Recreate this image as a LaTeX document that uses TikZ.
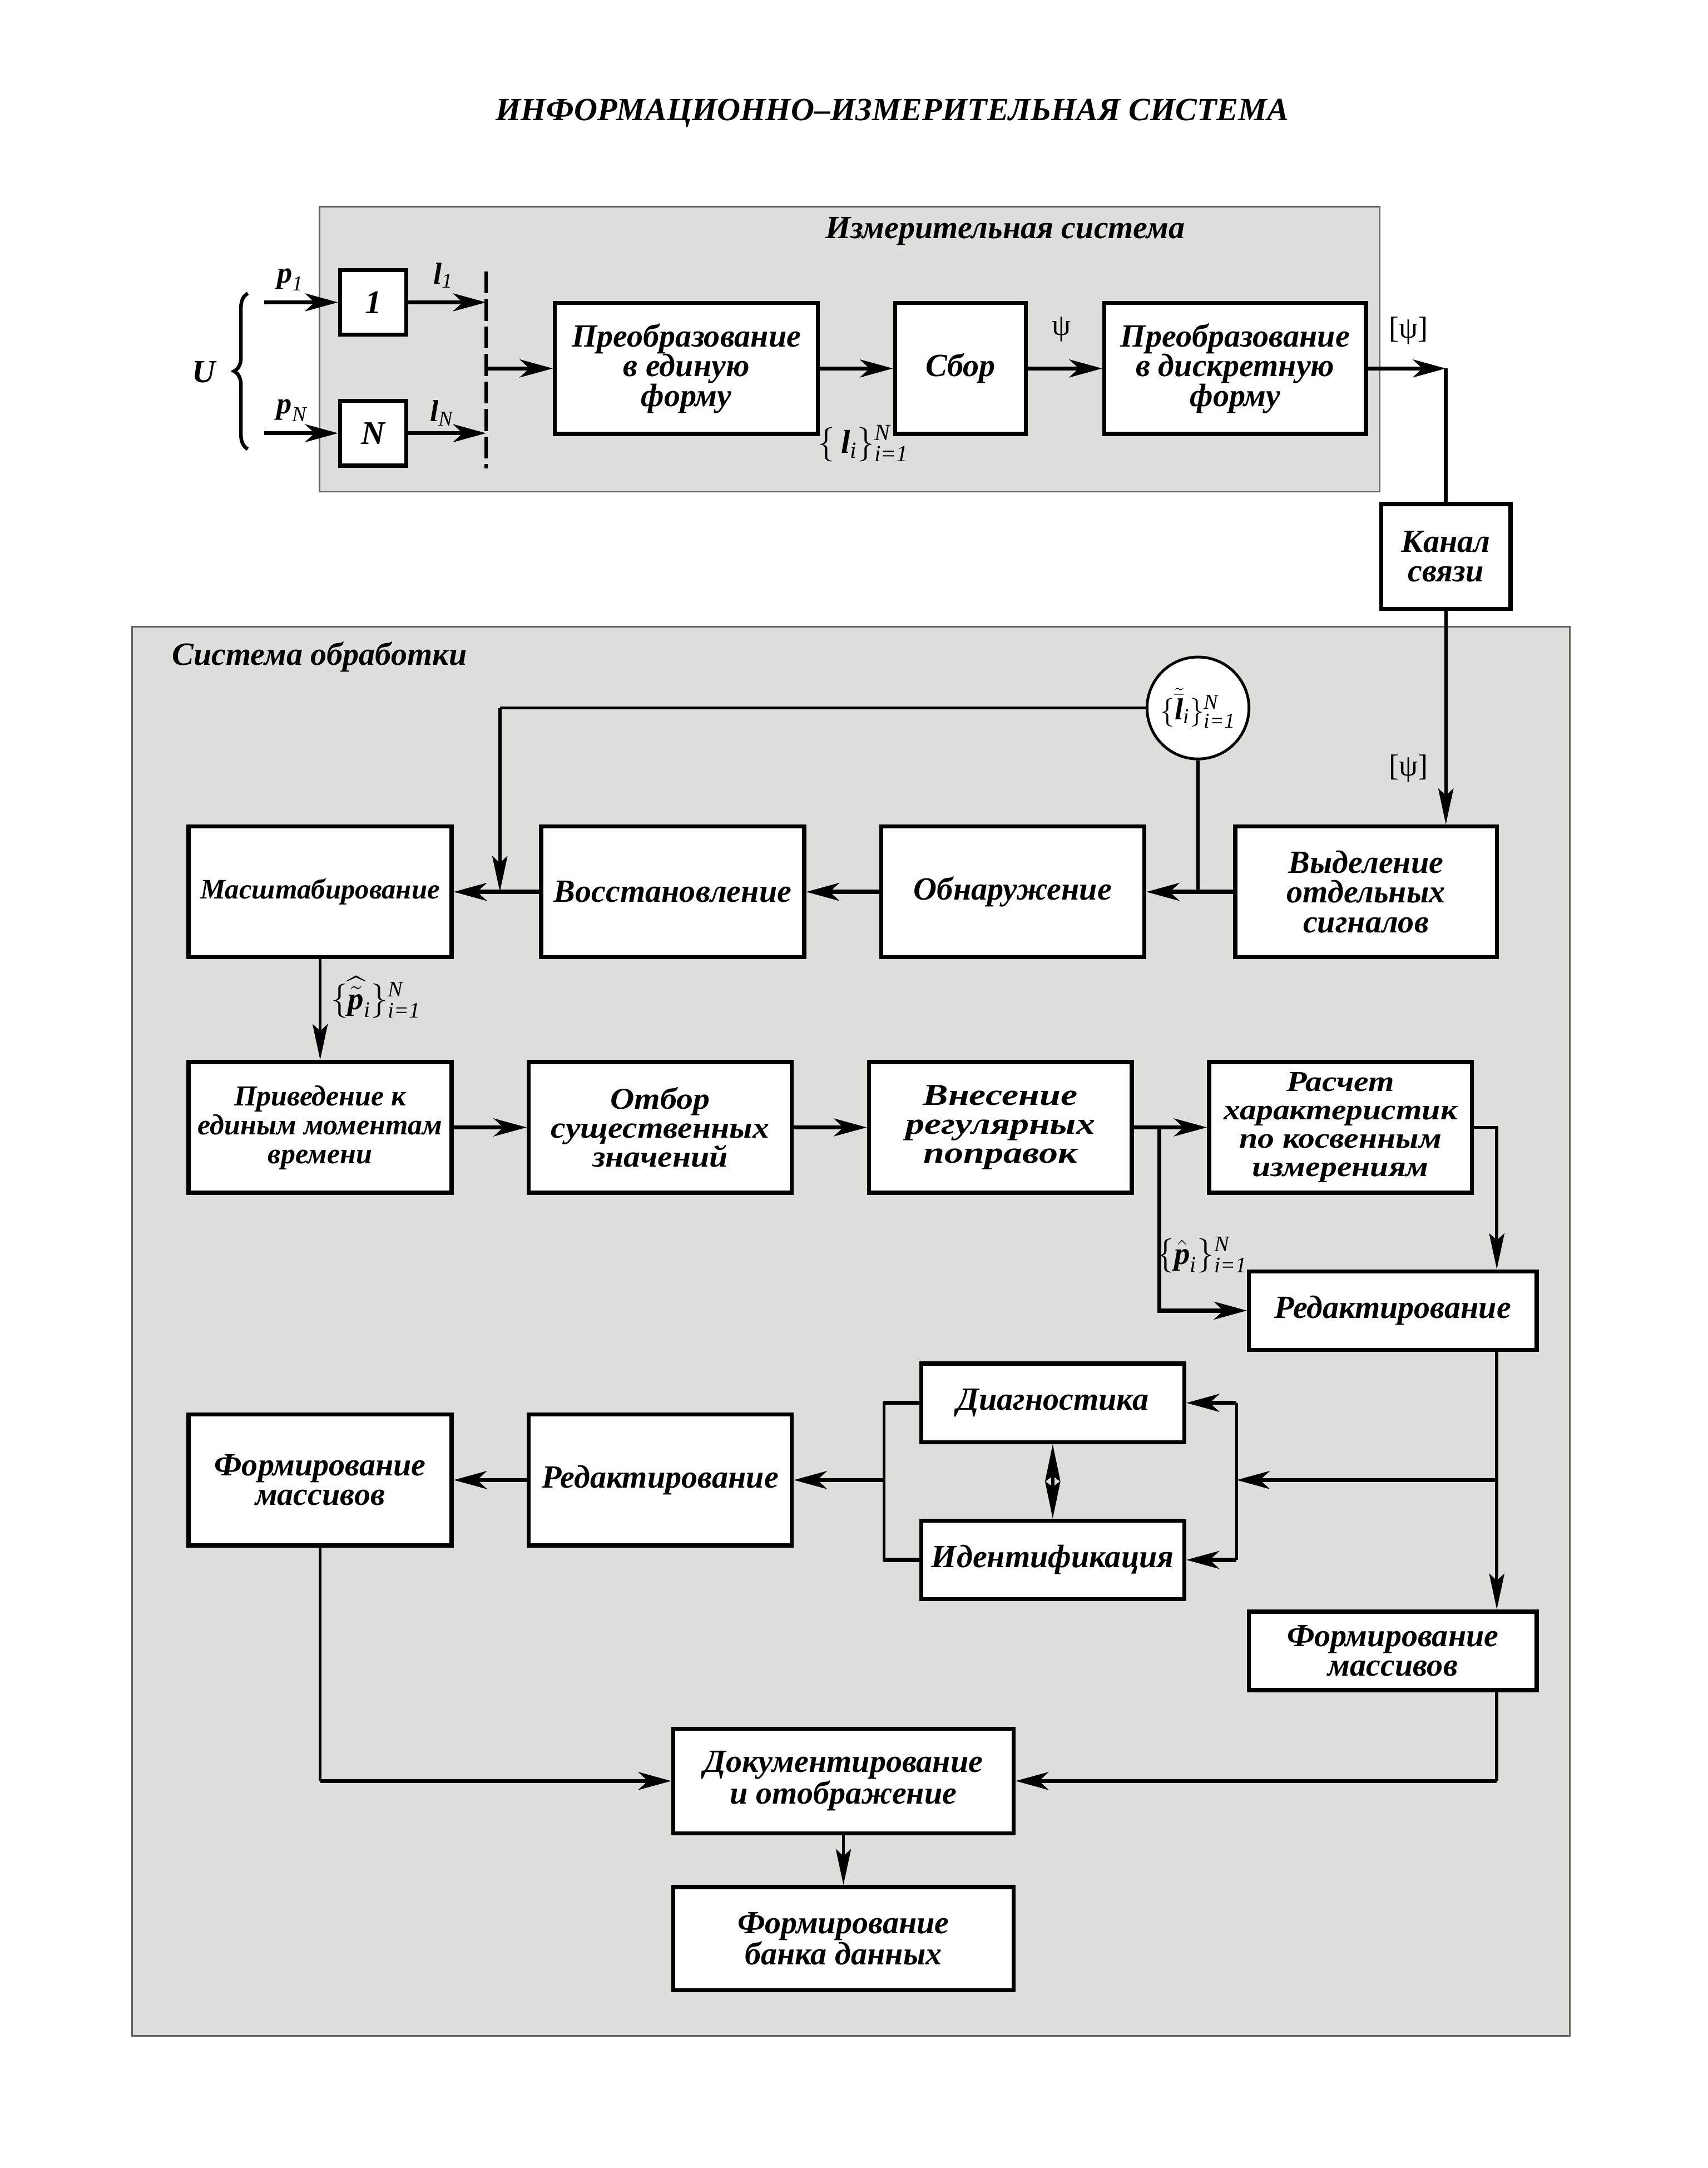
\documentclass[tikz,border=0pt]{standalone}
\usepackage{fontspec}
\usepackage{amsmath}
\setmainfont{Liberation Serif}
\newfontfamily\wideA[FakeStretch=1.25]{Liberation Serif}
\newfontfamily\wideB[FakeStretch=1.15]{Liberation Serif}
\newfontfamily\wideC[FakeStretch=1.1]{Liberation Serif}
\usetikzlibrary{arrows.meta,decorations.pathreplacing,calc}
\definecolor{panelgray}{RGB}{221,221,220}
\definecolor{framegray}{RGB}{95,95,95}
\newcommand{\mybi}[1]{\text{\bfseries\itshape #1}}
\newcommand{\myit}[1]{\text{\itshape #1}}
\tikzset{
  box/.style={rectangle, draw=black, fill=white, line width=3pt, inner sep=0pt,
    align=center, font=\bfseries\itshape\fontsize{23.5}{21.5}\selectfont},
  panel/.style={draw=framegray, fill=panelgray, line width=1pt},
  conn/.style={line width=3pt},
  thin/.style={line width=2.3pt},
  arr/.style={conn, -{Stealth[length=24pt,width=13pt,inset=7pt]}},
  varr/.style={thin, -{Stealth[length=26pt,width=11pt,inset=5pt]}},
  darr/.style={thin, {Stealth[length=27pt,width=11pt,inset=4pt]}-{Stealth[length=27pt,width=11pt,inset=4pt]}},
  lbl/.style={inner sep=0pt, font=\bfseries\itshape\fontsize{23.5}{23.5}\selectfont},
  mlbl/.style={inner sep=0pt, font=\fontsize{22}{22}\selectfont},
}
\begin{document}
\begin{tikzpicture}[x=1pt,y=-1pt]
\useasboundingbox (0,0) rectangle (1240,1574);
\fill[white] (0,0) rectangle (1240,1574);

% title
\node[lbl] (title) at (648,82) {ИНФОРМАЦИОННО–ИЗМЕРИТЕЛЬНАЯ СИСТЕМА};

% panels
\draw[panel] (232,150) rectangle (1002,357);
\draw[panel] (96,455) rectangle (1140,1478);
\node[lbl] (mslabel) at (730,168) {Измерительная система};
\node[lbl] (solabel) at (232,477) {Система обработки};

% ---------- measurement system ----------
\node[box, minimum width=48, minimum height=47, font=\bfseries\itshape\fontsize{24}{24}\selectfont] (b1) at (271,219.5) {1};
\node[box, minimum width=48, minimum height=47, font=\bfseries\itshape\fontsize{24}{24}\selectfont] (bN) at (271,314.5) {N};
\node[box, minimum width=191, minimum height=95] (pr1) at (498.5,267.5) {Преобразование\\в единую\\форму};
\node[box, minimum width=95, minimum height=95] (sb) at (697.5,267.5) {Сбор};
\node[box, minimum width=190, minimum height=95] (pr2) at (897,267.5) {Преобразование\\в дискретную\\форму};
\node[box, minimum width=94, minimum height=76] (kan) at (1050,404) {Канал\\связи};

% inputs
\coordinate (p1s) at (192,219.5);
\coordinate (pNs) at (192,314.5);
\draw[arr] (p1s) -- (b1.west);
\draw[arr] (pNs) -- (bN.west);
\node[lbl] (U) at (148,270) {U};
\draw[line width=2.6pt, decorate, decoration={brace, amplitude=10pt}] (180,326) -- (180,213);
\node[mlbl] (lp1) at (211,203) {$\mybi{p}_{\myit{1}}$};
\node[mlbl] (lpN) at (212,298) {$\mybi{p}_{\myit{N}}$};
\node[mlbl] (ll1) at (322,200) {$\mybi{l}_{\myit{1}}$};
\node[mlbl] (llN) at (321,300) {$\mybi{l}_{\myit{N}}$};

% dashed bus
\coordinate (dtop) at (353,197);
\coordinate (dbot) at (353,340);
\draw[line width=2.6pt, dash pattern=on 16pt off 4pt] (dtop) -- (dbot);
\draw[arr] (b1.east) -- (b1.east -| dtop);
\draw[arr] (bN.east) -- (bN.east -| dtop);
\draw[arr] (pr1.west -| dtop) -- (pr1.west);
\draw[arr] (pr1.east) -- (sb.west);
\draw[arr] (sb.east) -- (pr2.west);
\node[mlbl] (psi1) at (771,239) {ψ};
\node[mlbl, font=\fontsize{24}{24}\selectfont] (lset) at (627,322) {$\{\,\mybi{l}_{\myit{i}}\}_{\myit{i=1}}^{\myit{N}}$};
\coordinate (cor1) at (1050,267.5);
\draw[arr] (pr2.east) -- (cor1);
\draw[conn] (cor1) -- (kan.north);
\node[mlbl] (psi2) at (1023,240) {[ψ]};

% ---------- processing system ----------
\node[box, minimum width=191, minimum height=95, font=\bfseries\itshape\fontsize{20.5}{21.5}\selectfont] (mas) at (232.5,647.5) {Масштабирование};
\node[box, minimum width=191, minimum height=95] (vos) at (488.5,647.5) {Восстановление};
\node[box, minimum width=191, minimum height=95] (obn) at (735.5,647.5) {Обнаружение};
\node[box, minimum width=190, minimum height=95] (vyd) at (992,647.5) {Выделение\\отдельных\\сигналов};

\node[circle, draw=black, fill=white, line width=2pt, minimum size=74, inner sep=0pt, font=\fontsize{22}{22}\selectfont] (circ) at (870,514) {$\{\tilde{\bar{\mybi{l}}}_{\myit{i}}\}_{\myit{i=1}}^{\myit{N}}$};

\draw[varr] (kan.south) -- (kan.south |- vyd.north);
\node[mlbl] (psi3) at (1023,558) {[ψ]};

\coordinate (c363) at (363,514);
\draw[thin] (circ.west) -- (c363);
\draw[varr] (c363) -- (c363 |- mas.east);
\draw[thin] (circ.south) -- (circ.south |- vyd.west);

\draw[arr] (vyd.west) -- (obn.east);
\draw[arr] (obn.west) -- (vos.east);
\draw[arr] (vos.west) -- (mas.east);

\node[box, minimum width=191, minimum height=95, font=\bfseries\itshape\fontsize{21}{21}\selectfont] (priv) at (232.5,818.5) {Приведение к\\единым моментам\\времени};
\node[box, minimum width=191, minimum height=95, font=\wideC\bfseries\itshape\fontsize{22}{21}\selectfont] (otb) at (479.5,818.5) {Отбор\\существенных\\значений};
\node[box, minimum width=191, minimum height=95, font=\wideA\bfseries\itshape\fontsize{22}{21}\selectfont] (vns) at (726.5,818.5) {Внесение\\регулярных\\поправок};
\node[box, minimum width=191, minimum height=95, font=\wideB\bfseries\itshape\fontsize{21}{20.5}\selectfont] (ras) at (973.5,818.5) {Расчет\\характеристик\\по косвенным\\измерениям};

\draw[varr] (mas.south) -- (priv.north);
\node[mlbl, font=\fontsize{23}{23}\selectfont] (phh) at (273,724) {$\{\widehat{\tilde{\mybi{p}}}_{\myit{i}}\}_{\myit{i=1}}^{\myit{N}}$};

\draw[arr] (priv.east) -- (otb.west);
\draw[arr] (otb.east) -- (vns.west);
\draw[arr] (vns.east) -- (ras.west);

\node[box, minimum width=209, minimum height=57] (red1) at (1011.5,951.5) {Редактирование};
\coordinate (br) at (842,818.5);
\draw[arr] (br) |- (red1.west);
\node[mlbl, font=\fontsize{23}{23}\selectfont] (ph) at (873,911) {$\{\hat{\mybi{p}}_{\myit{i}}\}_{\myit{i=1}}^{\myit{N}}$};
\coordinate (rx) at (1087,818.5);
\draw[varr] (ras.east) -| (rx |- red1.north);

\node[box, minimum width=191, minimum height=57] (diag) at (764.5,1018.5) {Диагностика};
\node[box, minimum width=191, minimum height=57] (ident) at (764.5,1132.5) {Идентификация};
\node[box, minimum width=191, minimum height=95] (red2) at (479.5,1074.5) {Редактирование};
\node[box, minimum width=191, minimum height=95] (fm1) at (232.5,1074.5) {Формирование\\массивов};
\node[box, minimum width=209, minimum height=57] (fm2) at (1011.5,1198.5) {Формирование\\массивов};
\node[box, minimum width=247, minimum height=76] (dok) at (612.5,1293) {Документирование\\и отображение};
\node[box, minimum width=247, minimum height=75] (bank) at (612.5,1407.5) {Формирование\\банка данных};

\draw[varr] (rx |- red1.south) -- (rx |- fm2.north);
\coordinate (j1) at (1087,1074.5);
\coordinate (vx) at (898,1074.5);
\draw[arr] (j1) -- (vx);
\draw[thin] (vx |- diag.east) -- (vx |- ident.east);
\draw[arr] (vx |- diag.east) -- (diag.east);
\draw[arr] (vx |- ident.east) -- (ident.east);
\draw[darr] (diag.south) -- (ident.north);

\coordinate (lx) at (642,1074.5);
\draw[thin] (diag.west) -| (lx) |- (ident.west);
\draw[conn] (diag.west) -- (diag.west -| lx);
\draw[conn] (ident.west) -- (ident.west -| lx);
\draw[arr] (lx) -- (red2.east);
\draw[arr] (red2.west) -- (fm1.east);

\draw[thin] (fm1.south) -- (fm1.south |- dok.west);
\draw[arr] (fm1.south |- dok.west) -- (dok.west);
\draw[thin] (rx |- fm2.south) -- (rx |- dok.east);
\draw[arr] (rx |- dok.east) -- (dok.east);
\draw[varr] (dok.south) -- (bank.north);
\end{tikzpicture}
\end{document}
